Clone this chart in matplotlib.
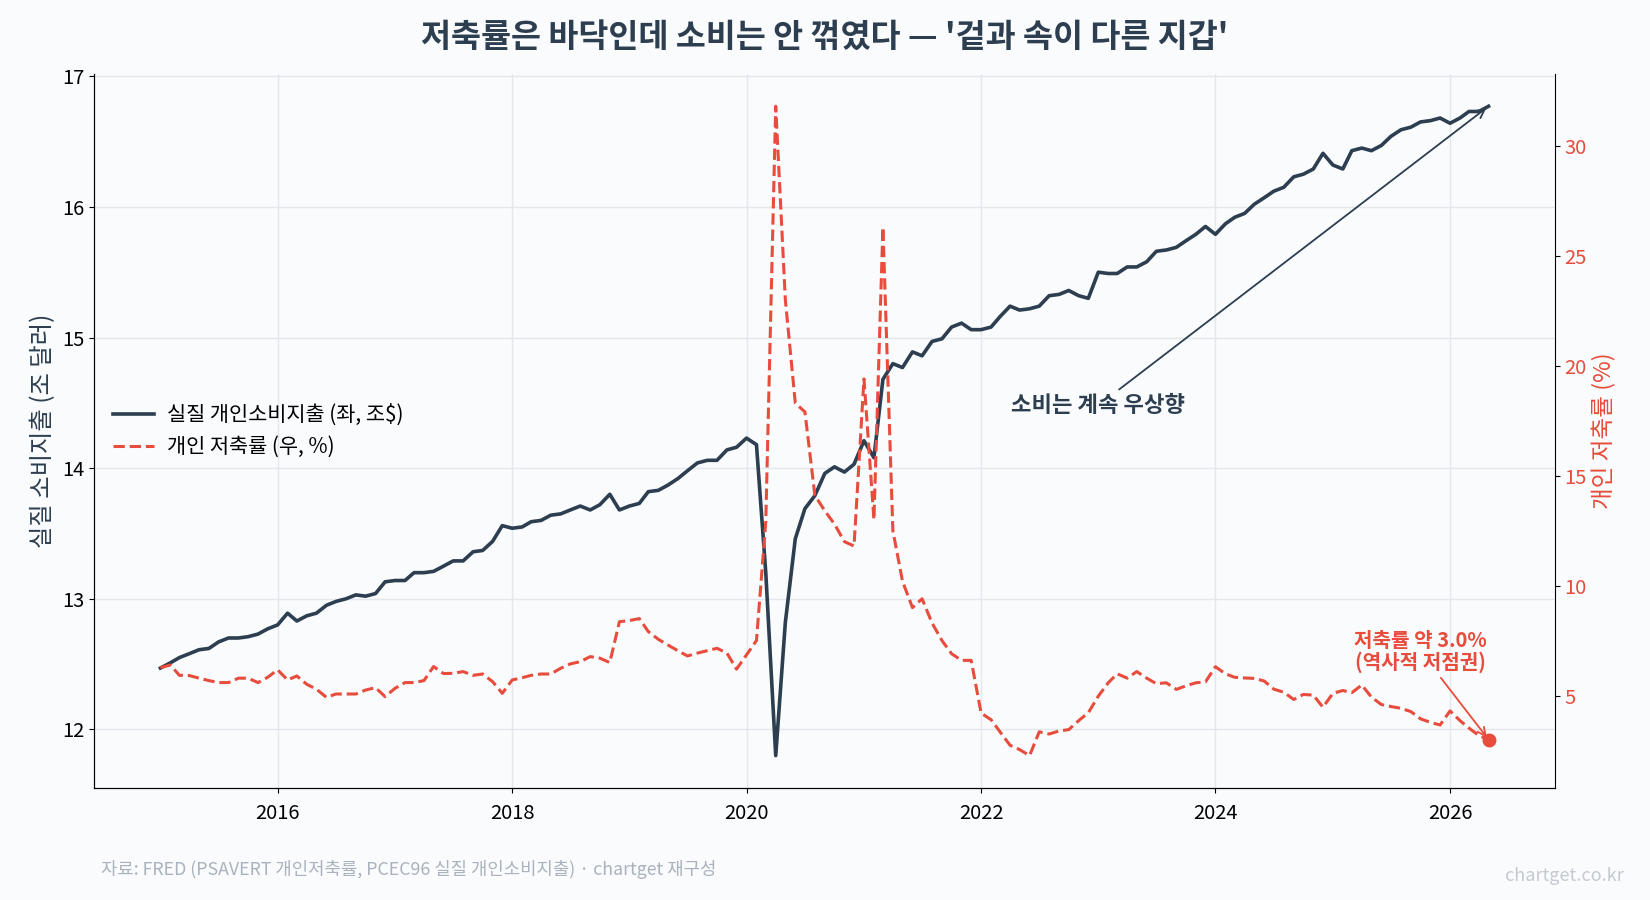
import matplotlib
matplotlib.use('Agg')
import matplotlib.pyplot as plt
import matplotlib.dates as mdates
import pandas as pd

plt.rcParams['font.family'] = ['Noto Sans CJK KR', 'DejaVu Sans']
plt.rcParams['axes.unicode_minus'] = False

# ---- data (monthly, 2015-01 .. 2026-05) ----
start_month = '2015-01-01'
end_month = '2026-05-01'

# real personal consumption expenditure, trillion $
pce = [
    12.47, 12.51, 12.55, 12.58, 12.61, 12.62, 12.67, 12.70, 12.70, 12.71, 12.73, 12.77,
    12.80, 12.89, 12.83, 12.87, 12.89, 12.95, 12.98, 13.00, 13.03, 13.02, 13.04, 13.13,
    13.14, 13.14, 13.20, 13.20, 13.21, 13.25, 13.29, 13.29, 13.36, 13.37, 13.44, 13.56,
    13.54, 13.55, 13.59, 13.60, 13.64, 13.65, 13.68, 13.71, 13.68, 13.72, 13.80, 13.68,
    13.71, 13.73, 13.82, 13.83, 13.87, 13.92, 13.98, 14.04, 14.06, 14.06, 14.14, 14.16,
    14.23, 14.18, 13.20, 11.80, 12.82, 13.46, 13.69, 13.79, 13.96, 14.01, 13.97, 14.03,
    14.21, 14.08, 14.68, 14.80, 14.77, 14.89, 14.86, 14.97, 14.99, 15.08, 15.11, 15.06,
    15.06, 15.08, 15.16, 15.24, 15.21, 15.22, 15.24, 15.32, 15.33, 15.36, 15.32, 15.30,
    15.50, 15.49, 15.49, 15.54, 15.54, 15.58, 15.66, 15.67, 15.69, 15.74, 15.79, 15.85,
    15.79, 15.87, 15.92, 15.95, 16.02, 16.07, 16.12, 16.15, 16.23, 16.25, 16.29, 16.41,
    16.32, 16.29, 16.43, 16.45, 16.43, 16.47, 16.54, 16.59, 16.61, 16.65, 16.66, 16.68,
    16.64, 16.68, 16.73, 16.73, 16.77,
]

# personal saving rate, %
saving = [
    6.27, 6.39, 5.92, 5.91, 5.79, 5.68, 5.59, 5.59, 5.79, 5.79, 5.59, 5.83,
    6.17, 5.71, 5.89, 5.51, 5.29, 4.92, 5.07, 5.07, 5.07, 5.25, 5.36, 4.95,
    5.33, 5.59, 5.59, 5.68, 6.32, 6.00, 6.01, 6.09, 5.92, 5.98, 5.63, 5.10,
    5.71, 5.81, 5.92, 5.98, 5.98, 6.24, 6.44, 6.54, 6.77, 6.70, 6.50, 8.36,
    8.41, 8.50, 7.91, 7.56, 7.30, 7.04, 6.80, 6.93, 7.04, 7.15, 6.93, 6.20,
    6.85, 7.50, 12.9, 31.8, 23.0, 18.3, 17.9, 14.1, 13.4, 12.8, 12.0, 11.8,
    19.4, 13.0, 26.3, 12.5, 10.2, 9.0, 9.4, 8.3, 7.5, 6.9, 6.6, 6.6,
    4.2, 3.9, 3.35, 2.74, 2.54, 2.27, 3.35, 3.25, 3.39, 3.45, 3.86, 4.22,
    4.97, 5.58, 5.99, 5.79, 6.09, 5.79, 5.54, 5.58, 5.28, 5.44, 5.58, 5.62,
    6.31, 5.99, 5.83, 5.80, 5.78, 5.66, 5.29, 5.15, 4.82, 5.05, 5.02, 4.47,
    5.10, 5.23, 5.13, 5.48, 4.93, 4.59, 4.50, 4.42, 4.27, 3.94, 3.78, 3.66,
    4.30, 3.86, 3.52, 3.18, 3.00,
]

dates = pd.date_range(start_month, end_month, freq='MS')

NAVY = '#2c3e50'
RED = '#e74c3c'
BG = '#f9fbfd'

fig, ax = plt.subplots(figsize=(16.5, 9), dpi=100)
fig.patch.set_facecolor(BG)
ax.set_facecolor(BG)
fig.subplots_adjust(left=0.057, right=0.9424, top=0.918, bottom=0.1244)

l1, = ax.plot(dates, pce, color=NAVY, lw=2.6, label='실질 개인소비지출 (좌, 조$)')
ax.set_ylabel('실질 소비지출 (조 달러)', fontsize=17.5, color=NAVY)
ax.tick_params(axis='both', labelsize=14.5)
ax.tick_params(axis='x', pad=7)
ax.grid(True, color='#e4e7eb', lw=1)
ax.xaxis.set_major_locator(mdates.YearLocator(2))
ax.xaxis.set_major_formatter(mdates.DateFormatter('%Y'))

ax2 = ax.twinx()
l2, = ax2.plot(dates, saving, color=RED, lw=2.2, ls='--', label='개인 저축률 (우, %)')
ax2.plot(dates[-1], saving[-1], 'o', color=RED, ms=9, zorder=5)
ax2.set_ylabel('개인 저축률 (%)', fontsize=17, color=RED)
ax2.tick_params(axis='y', labelsize=14.5, labelcolor=RED)

for a in (ax, ax2):
    a.spines['top'].set_visible(False)
ax.spines['right'].set_visible(False)

ax.legend(handles=[l1, l2], loc='center left', frameon=False, fontsize=15,
          handlelength=2.0, handletextpad=0.6)

# annotations
ax.annotate('소비는 계속 우상향', xy=(dates[-1], pce[-1]),
            xytext=(pd.Timestamp('2023-01-01'), 14.48),
            ha='center', va='center', fontsize=16, fontweight='bold', color=NAVY,
            arrowprops=dict(arrowstyle='->', color=NAVY, lw=1.3))
ax2.annotate('저축률 약 3.0%\n(역사적 저점권)', xy=(dates[-1], saving[-1]),
             xytext=(pd.Timestamp('2025-10-01'), 7.0),
             ha='center', va='center', fontsize=14.5, fontweight='bold', color=RED,
             linespacing=1.0,
             arrowprops=dict(arrowstyle='->', color=RED, lw=1.3))

fig.suptitle("저축률은 바닥인데 소비는 안 꺾였다 — '겉과 속이 다른 지갑'",
             y=0.958, va='center', fontsize=23.5, fontweight='bold', color=NAVY)

fig.text(0.061, 0.034, '자료: FRED (PSAVERT 개인저축률, PCEC96 실질 개인소비지출) · chartget 재구성',
         fontsize=12.8, color='#aab2bd', va='center')
fig.text(0.984, 0.027, 'chartget.co.kr', ha='right', va='center', fontsize=13, color='#c5cad1')

fig.savefig('out.png', dpi=100, facecolor=BG)
